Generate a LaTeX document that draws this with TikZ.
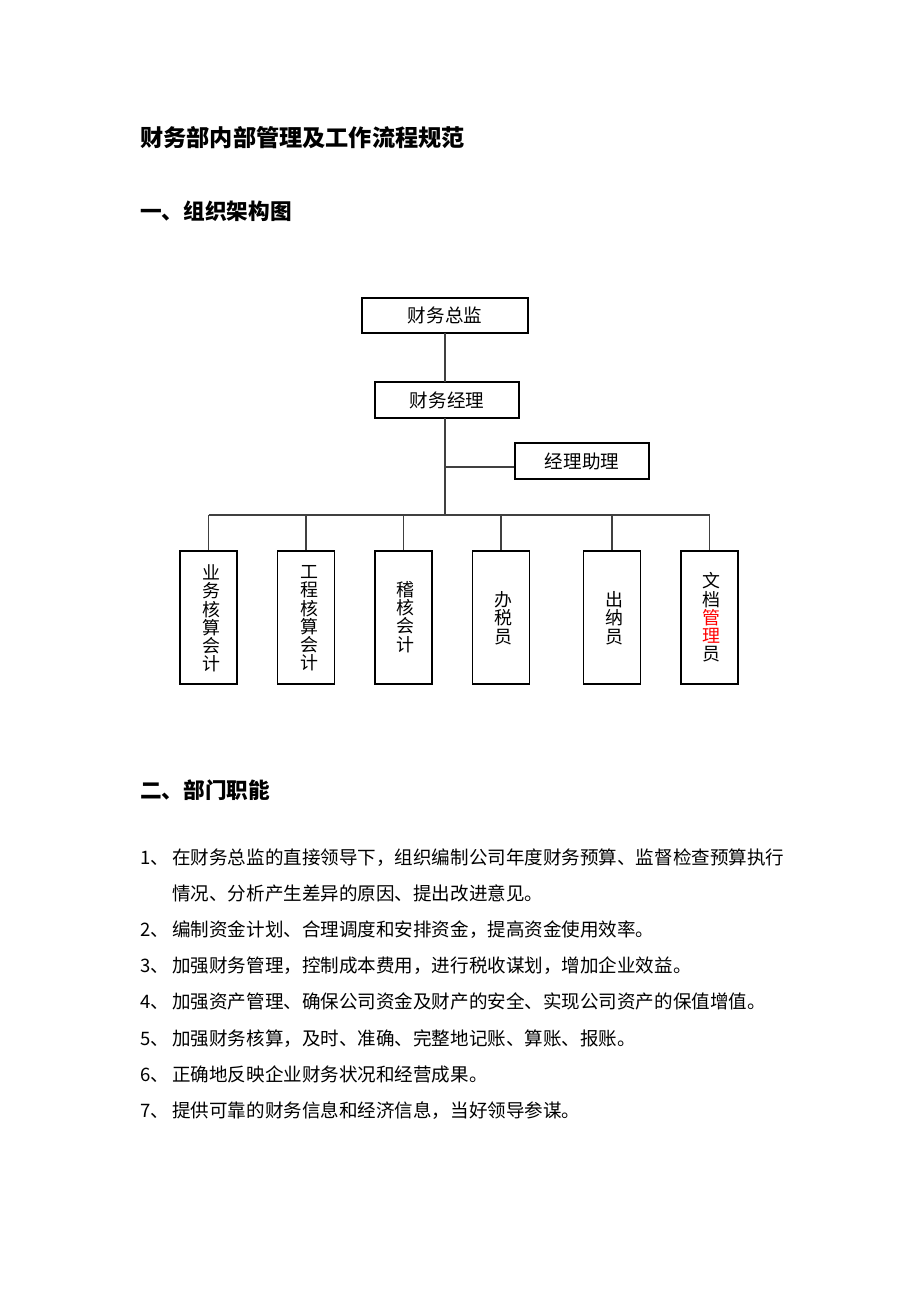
\documentclass[tikz,border=0pt]{standalone}
\usepackage{fontspec}
\newfontfamily\cjk{Noto Sans CJK SC}
\newdimen\pxu
\pxu=0.64704pt
\tikzset{
  boxh/.style={draw=black, line width=0.75pt, inner sep=0pt, minimum width=#1, minimum height=36\pxu,
    font=\cjk\fontsize{12}{14}\selectfont},
  boxv/.style={draw=black, line width=0.75pt, inner sep=0pt, minimum width=57\pxu, minimum height=133\pxu},
  vtext/.style={inner sep=0pt, align=center, font=\cjk\fontsize{11.6}{11.8}\selectfont},
  conn/.style={draw=black!75, line width=0.9pt},
  title/.style={inner sep=0pt, anchor=base west, font=\cjk\bfseries\fontsize{15}{18}\selectfont},
  head/.style={inner sep=0pt, anchor=base west, font=\cjk\bfseries\fontsize{14}{17}\selectfont},
  body/.style={inner sep=0pt, anchor=base west, font=\cjk\fontsize{12}{14}\selectfont}
}
\begin{document}
\begin{tikzpicture}[x=0.64704pt,y=-0.64704pt]
\fill[white] (0,0) rectangle (920,1302);
\useasboundingbox (0,0) rectangle (920,1302);

\node[title] (t0) at (140,146) {财务部内部管理及工作流程规范};
\node[head] (h1) at (140,219.5) {一、组织架构图};
\node[head] (h2) at (140,798.5) {二、部门职能};

% org chart
\node[boxh=166\pxu, minimum height=35\pxu] (zj) at (445,315.5) {财务总监};
\node[boxh=144\pxu] (jl) at (447,400) {财务经理};
\node[boxh=134\pxu] (zl) at (582,461) {经理助理};

\coordinate (z1) at (445,333);
\coordinate (z2) at (445,382);
\coordinate (z3) at (445,418);
\coordinate (za) at (445,467);
\coordinate (bar) at (445,515);

\node[boxv] (b1) at (208.5,617.5) {};
\node[boxv] (b2) at (306,617.5) {};
\node[boxv] (b3) at (403.5,617.5) {};
\node[boxv] (b4) at (501,617.5) {};
\node[boxv] (b5) at (612,617.5) {};
\node[boxv] (b6) at (709.5,617.5) {};

\node[vtext] (v1) at (211,618.5) {业\\务\\核\\算\\会\\计};
\node[vtext] (v2) at (309,618.5) {工\\程\\核\\算\\会\\计};
\node[vtext] (v3) at (405,617) {稽\\核\\会\\计};
\node[vtext] (v4) at (503,618) {办\\税\\员};
\node[vtext] (v5) at (614,618) {出\\纳\\员};
\node[vtext] (v6) at (711,617.5) {文\\档\\\textcolor{red}{管}\\\textcolor{red}{理}\\员};

\draw[conn] (z1) -- (z2);
\draw[conn] (z3) -- (bar);
\draw[conn] (za) -- (za -| zl.west);
\draw[conn] (bar -| b1.north) -- (bar -| b6.north);
\foreach \b in {b1,b2,b3,b4,b5,b6}{
  \draw[conn] (bar -| \b.north) -- (\b.north);
}

% list
\node[body] (n1) at (140,864) {1、};
\node[body] (l1) at (172,864) {在财务总监的直接领导下，组织编制公司年度财务预算、监督检查预算执行};
\node[body] (l1b) at (172,900) {情况、分析产生差异的原因、提出改进意见。};
\node[body] (n2) at (140,936) {2、};
\node[body] (l2) at (172,936) {编制资金计划、合理调度和安排资金，提高资金使用效率。};
\node[body] (n3) at (140,972) {3、};
\node[body] (l3) at (172,972) {加强财务管理，控制成本费用，进行税收谋划，增加企业效益。};
\node[body] (n4) at (140,1008.5) {4、};
\node[body] (l4) at (172,1008.5) {加强资产管理、确保公司资金及财产的安全、实现公司资产的保值增值。};
\node[body] (n5) at (140,1045) {5、};
\node[body] (l5) at (172,1045) {加强财务核算，及时、准确、完整地记账、算账、报账。};
\node[body] (n6) at (140,1081) {6、};
\node[body] (l6) at (172,1081) {正确地反映企业财务状况和经营成果。};
\node[body] (n7) at (140,1117) {7、};
\node[body] (l7) at (172,1117) {提供可靠的财务信息和经济信息，当好领导参谋。};
\end{tikzpicture}
\end{document}
